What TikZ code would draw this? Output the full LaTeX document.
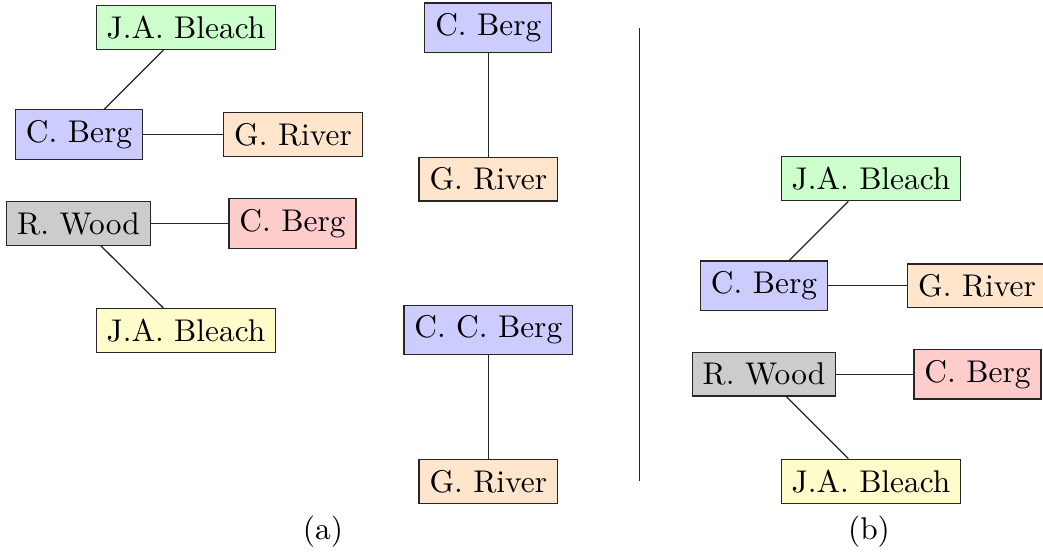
\documentclass[tikz,border=0pt]{standalone}
\begin{document}
\begin{tikzpicture}[x=0.3185pt,y=-0.3185pt,
  person/.style={draw=black!85,rectangle,inner sep=0.3333em},
  link/.style={draw=black!85},
  sublabel/.style={inner sep=0pt}]
\useasboundingbox (0,0) rectangle (1043,555);
% (a) left tree
\node[person,fill=green!20]  (b1) at (186,27.5)  {J.A. Bleach};
\node[person,fill=blue!20]   (c1) at (79,134.5)  {C. Berg};
\node[person,fill=orange!20] (g1) at (293,134.5) {G. River};
\node[person,fill=black!20]  (w1) at (78.5,223.5) {R. Wood};
\node[person,fill=red!20]    (r1) at (292.5,223.5) {C. Berg};
\node[person,fill=yellow!20] (y1) at (186,330.5) {J.A. Bleach};
\draw[link] (c1) -- (b1);
\draw[link] (c1) -- (g1);
\draw[link] (w1) -- (r1);
\draw[link] (w1) -- (y1);
% (a) middle chains
\node[person,fill=blue!20]   (m1) at (488.3,27.8) {C. Berg};
\node[person,fill=orange!20] (m2) at (488.3,179)  {G. River};
\node[person,fill=blue!20]   (m3) at (488.3,330)  {C. C. Berg};
\node[person,fill=orange!20] (m4) at (488.3,481.5) {G. River};
\draw[link] (m1) -- (m2);
\draw[link] (m3) -- (m4);
% separator
\coordinate (s1) at (639.3,28.3);
\coordinate (s2) at (639.3,481);
\draw[link] (s1) -- (s2);
% (b) tree
\node[person,fill=green!20]  (b2) at (871,178.8) {J.A. Bleach};
\node[person,fill=blue!20]   (c2) at (764,285.8) {C. Berg};
\node[person,fill=orange!20] (g2) at (977,285.8) {G. River};
\node[person,fill=black!20]  (w2) at (764,374.3) {R. Wood};
\node[person,fill=red!20]    (r2) at (977.5,374.3) {C. Berg};
\node[person,fill=yellow!20] (y2) at (871,481.3) {J.A. Bleach};
\draw[link] (c2) -- (b2);
\draw[link] (c2) -- (g2);
\draw[link] (w2) -- (r2);
\draw[link] (w2) -- (y2);
% captions
\node[sublabel] (la) at (323,532) {(a)};
\node[sublabel] (lb) at (869,532) {(b)};
\end{tikzpicture}
\end{document}
